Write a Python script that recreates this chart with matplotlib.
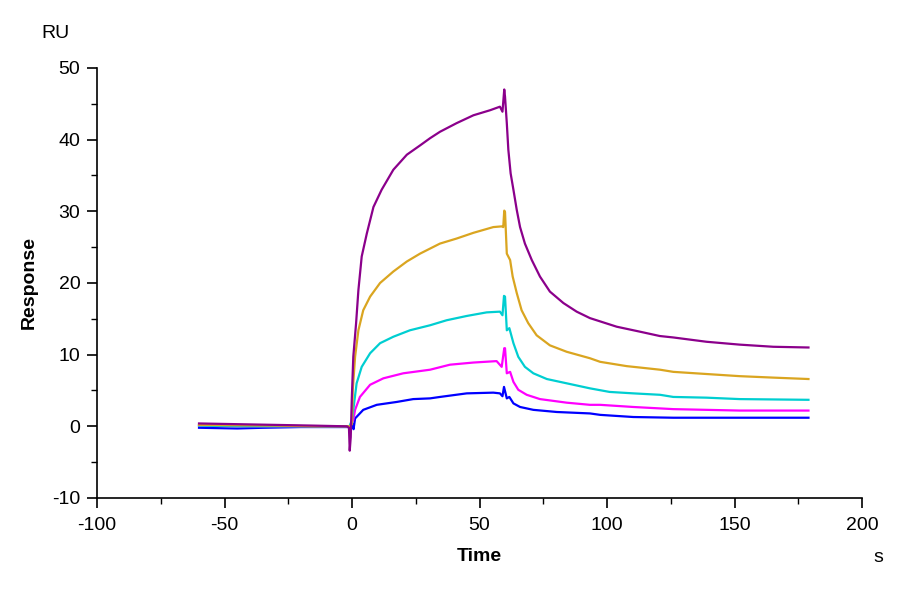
import matplotlib
matplotlib.use("Agg")
import matplotlib.pyplot as plt
from matplotlib.ticker import MultipleLocator

plt.rcParams['font.family'] = ['Liberation Sans', 'DejaVu Sans']
plt.rcParams['axes.unicode_minus'] = False

# ---- data (time in s, response in RU) ----
t_purple = [-60, -45, -30, -15, -2, -1.2, -0.9, -0.5, -0.1, 0.5, 1.6, 2.5, 3.8, 5.8, 8.4, 11.6, 16.2,
            21.5, 26.7, 30.6, 34.5, 41, 47.6, 54.1, 58, 59, 59.7, 60, 60.7, 61.3, 62.2, 63.3, 64.6,
            65.9, 67.8, 70.5, 73.7, 77.6, 82.9, 88.1, 93.3, 103.8, 113, 120.7, 126, 139, 152, 165.2, 179]
y_purple = [0.4, 0.3, 0.2, 0.1, 0.0, -0.2, -3.4, -1.5, 3.7, 9.7, 14.4, 19.0, 23.7, 26.9, 30.6, 33.0, 35.8,
            37.9, 39.2, 40.2, 41.1, 42.3, 43.4, 44.1, 44.6, 43.9, 47.0, 46.0, 42.3, 38.6, 35.3, 33.0, 30.2,
            27.8, 25.5, 23.2, 20.9, 18.8, 17.2, 16.0, 15.1, 13.9, 13.2, 12.6, 12.4, 11.8, 11.4, 11.1, 11.0]

t_orange = [-60, -45, -30, -15, -1, 0, 0.3, 1.2, 2.5, 4.4, 7.1, 11, 16.2, 21.5, 26.7, 30.6, 34.5, 41,
            47.6, 55.4, 58.7, 59.3, 59.7, 60, 60.7, 62, 63, 64.6, 66.5, 69.1, 72.4, 77.6, 84.2, 93.3,
            97.3, 107.7, 113, 120.8, 126, 139, 152, 165, 179]
y_orange = [0.2, 0.15, 0.1, 0.0, 0.0, 0.3, 5.1, 9.7, 13.4, 16.2, 18.1, 20.0, 21.6, 23.0, 24.1, 24.8, 25.5, 26.2,
            27.0, 27.8, 27.9, 27.8, 30.1, 29.9, 24.1, 23.2, 20.9, 18.6, 16.2, 14.4, 12.7, 11.3, 10.4, 9.5,
            9.0, 8.4, 8.2, 7.9, 7.6, 7.3, 7.0, 6.8, 6.6]

t_cyan = [-60, -45, -30, -15, -1, 0, 0.5, 1.8, 3.8, 7.1, 11, 16.2, 22.7, 30.6, 37.1, 45, 52.8, 58,
          59, 59.6, 60, 60.7, 61.7, 63.3, 65.2, 67.8, 71.1, 76.4, 84.2, 93.3, 101, 110.3, 120.8,
          126, 139, 152, 179]
y_cyan = [0.1, 0.0, 0.0, 0.0, 0.0, 0.9, 2.3, 6.0, 8.3, 10.2, 11.6, 12.5, 13.4, 14.1, 14.8, 15.4, 15.9, 16.0,
          15.5, 18.2, 18.1, 13.4, 13.7, 11.6, 9.7, 8.3, 7.4, 6.6, 6.0, 5.3, 4.8, 4.6, 4.4,
          4.1, 4.0, 3.8, 3.7]

t_magenta = [-60, -45, -30, -15, -1, 0.5, 1.2, 3.1, 7.1, 12.3, 20.1, 30.6, 38.4, 47.6, 56.7, 58.7,
             59.7, 60, 60.7, 62, 63.3, 65.2, 68.5, 73.7, 84.2, 93.3, 97.3, 110.3, 120.8, 126, 152, 179]
y_magenta = [0.1, 0.0, 0.0, 0.0, 0.0, 0.9, 2.3, 4.1, 5.8, 6.7, 7.4, 7.9, 8.6, 8.9, 9.1, 8.3,
             10.9, 10.9, 7.4, 7.6, 6.2, 5.1, 4.4, 3.8, 3.3, 3.0, 3.0, 2.7, 2.5, 2.4, 2.2, 2.2]

t_blue = [-60, -45, -35, -20, -1, 0.3, 0.6, 1.2, 4.4, 9.7, 17.5, 24, 30.6, 34.5, 45, 55.4, 58, 59, 59.6,
          60.7, 61.7, 63.3, 65.9, 71.1, 80.3, 93.3, 97.3, 110.3, 126, 152, 179]
y_blue = [-0.2, -0.3, -0.2, -0.1, -0.1, 0.3, -0.4, 1.1, 2.3, 3.0, 3.4, 3.8, 3.9, 4.1, 4.6, 4.7, 4.6, 4.2, 5.5,
          3.9, 4.1, 3.2, 2.7, 2.3, 2.0, 1.8, 1.6, 1.3, 1.2, 1.2, 1.2]

x_ticks = [-100, -50, 0, 50, 100, 150, 200]
y_ticks = [-10, 0, 10, 20, 30, 40, 50]

# ---- figure ----
fig = plt.figure(figsize=(9, 6), dpi=100)
ax = fig.add_axes([0.1078, 0.17, 0.850, 0.7167])

lw = 1.6
ax.plot(t_blue, y_blue, color='#0000FF', lw=lw)
ax.plot(t_magenta, y_magenta, color='#FF00FF', lw=lw)
ax.plot(t_cyan, y_cyan, color='#00CED1', lw=lw)
ax.plot(t_orange, y_orange, color='#DAA520', lw=lw)
ax.plot(t_purple, y_purple, color='#8B008B', lw=lw)

ax.set_xlim(-100, 200)
ax.set_ylim(-10, 50)
ax.set_xticks(x_ticks)
ax.set_yticks(y_ticks)
ax.xaxis.set_minor_locator(MultipleLocator(25))
ax.yaxis.set_minor_locator(MultipleLocator(5))

for s in ['top', 'right']:
    ax.spines[s].set_visible(False)
for s in ['left', 'bottom']:
    ax.spines[s].set_linewidth(1.2)

ax.tick_params(which='major', direction='out', length=7, width=1.2, labelsize=14)
ax.tick_params(axis='x', which='major', pad=7)
ax.tick_params(axis='y', which='major', pad=5)
ax.tick_params(which='minor', direction='out', length=4, width=1.0)

ax.set_ylabel('Response', fontsize=14, fontweight='bold', labelpad=10)
ax.set_xlabel('Time', fontsize=14, fontweight='bold', labelpad=10)

fig.text(55 / 900, 1 - 33 / 600, 'RU', fontsize=14, ha='center', va='center')
fig.text(878 / 900, 1 - 558 / 600, 's', fontsize=14, ha='center', va='center')

fig.savefig('out.png', dpi=100)
